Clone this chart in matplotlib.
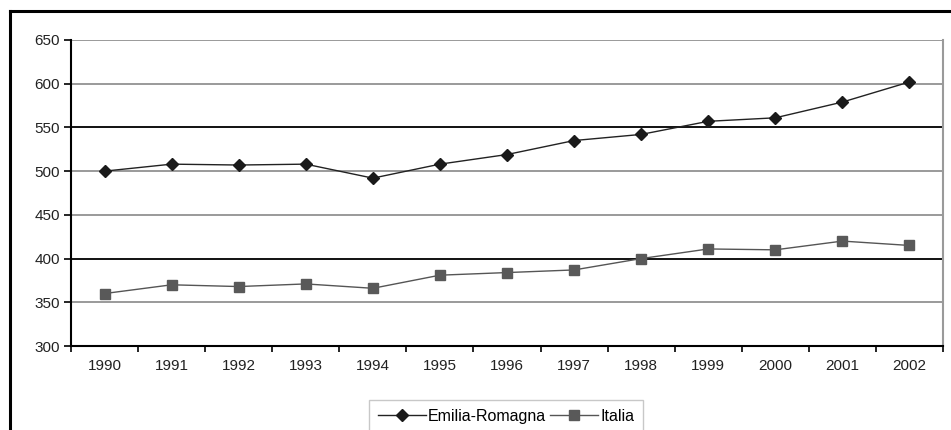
import matplotlib
matplotlib.use("Agg")
import matplotlib.pyplot as plt
from matplotlib.lines import Line2D
import numpy as np

years = ["1990", "1991", "1992", "1993", "1994", "1995", "1996",
         "1997", "1998", "1999", "2000", "2001", "2002"]
emilia = [500, 508, 507, 508, 492, 508, 519, 535, 542, 557, 561, 579, 602]
italia = [360, 370, 368, 371, 366, 381, 384, 387, 400, 411, 410, 420, 415]
yticks = [300, 350, 400, 450, 500, 550, 600, 650]

plt.rcParams['font.family'] = ['Liberation Sans', 'DejaVu Sans']

fig = plt.figure(figsize=(9.51, 4.30), dpi=100)
W, H = 951, 430
ax = fig.add_axes([71 / W, 1 - 346 / H, (943 - 71) / W, (346 - 40) / H])

x = np.arange(len(years))
ax.set_xlim(-0.5, len(years) - 0.5)
ax.set_ylim(300, 650)

# gridlines
for v in yticks[1:]:
    col = '#111111' if v in (400, 550) else '#9a9a9a'
    ax.axhline(v, color=col, lw=1.4, zorder=1)

ax.plot(x, emilia, color='#222222', lw=1.0, marker='D', markersize=6,
        markerfacecolor='#1a1a1a', markeredgecolor='#1a1a1a', label='Emilia-Romagna', zorder=3)
ax.plot(x, italia, color='#555555', lw=1.0, marker='s', markersize=7,
        markerfacecolor='#595959', markeredgecolor='#595959', label='Italia', zorder=3)

ax.set_yticks(yticks)
ax.set_yticklabels([str(v) for v in yticks])
ax.set_xticks(x)
ax.set_xticklabels(years)
ax.set_xticks(np.arange(-0.5, len(years)), minor=True)
ax.tick_params(axis='x', which='major', length=0, pad=9, labelsize=11, colors='#222222')
ax.tick_params(axis='x', which='minor', length=4, width=1.2, direction='out', color='black')
ax.tick_params(axis='y', length=5, width=1.2, direction='out', pad=3, labelsize=11,
               color='black', labelcolor='#222222')

for s in ['left', 'bottom']:
    ax.spines[s].set_color('black')
    ax.spines[s].set_linewidth(1.5)
ax.spines['top'].set_visible(False)
ax.spines['right'].set_color('#9a9a9a')
ax.spines['right'].set_linewidth(1.5)

leg = fig.legend(loc='upper center', bbox_to_anchor=(506 / W, 1 - 400 / H), ncol=2,
                 frameon=True, fancybox=False, edgecolor='#bbbbbb', fontsize=11.5,
                 handlelength=3.0, handletextpad=0.15, columnspacing=0.25,
                 borderpad=0.55, borderaxespad=0)
leg.get_frame().set_linewidth(1.0)

# outer frame
fig.add_artist(Line2D([10 / W, 1.0], [1 - 11 / H, 1 - 11 / H], color='black', lw=2.2,
                      transform=fig.transFigure))
fig.add_artist(Line2D([10 / W, 10 / W], [1 - 11 / H, 0.0], color='black', lw=2.2,
                      transform=fig.transFigure))

fig.savefig('out.png', dpi=100)
